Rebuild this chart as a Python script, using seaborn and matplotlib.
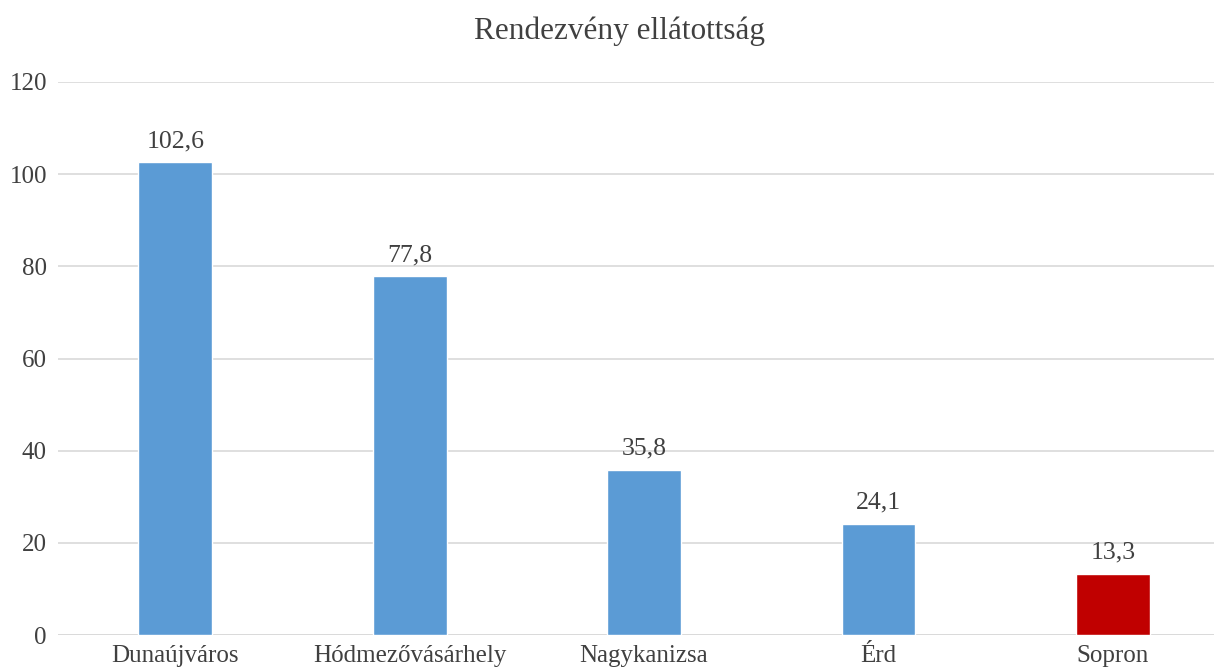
import matplotlib
matplotlib.use("Agg")
import matplotlib.pyplot as plt
import seaborn as sns
import pandas as pd

# adatok
cities = ["Dunaújváros", "Hódmezővásárhely", "Nagykanizsa", "Érd", "Sopron"]
values = [102.6, 77.8, 35.8, 24.1, 13.3]
bar_colors = ["#5B9BD5", "#5B9BD5", "#5B9BD5", "#5B9BD5", "#C00000"]
yticks = [0, 20, 40, 60, 80, 100, 120]

sns.set_theme(style="white")
plt.rcParams["font.family"] = ["Liberation Serif", "DejaVu Serif"]
text_color = "#404040"

df = pd.DataFrame({"city": cities, "value": values})

fig = plt.figure(figsize=(12.14, 6.69), dpi=100)
W, H = 1214, 669
left, right, top, bottom = 58, 1214, 82, 635
ax = fig.add_axes([left / W, 1 - bottom / H, (right - left) / W, (bottom - top) / H])

sns.barplot(data=df, x="city", y="value", hue="city", palette=bar_colors,
            legend=False, width=0.315, ax=ax, saturation=1)

ax.set_ylim(0, 120)
# a jobb szél levágva, mint az eredetin
ax.set_xlim(-0.5, 4.5 - (1230 - 1214) / 234)
ax.set_yticks(yticks)
ax.grid(axis="y", color="#D9D9D9", linewidth=1.2)
ax.set_axisbelow(True)
for s in ["top", "right", "left", "bottom"]:
    ax.spines[s].set_visible(False)
ax.axhline(0, color="#D9D9D9", linewidth=1.2, zorder=0.5)

ax.set_xlabel("")
ax.set_ylabel("")
ax.tick_params(axis="y", length=0, pad=8, labelsize=18, labelcolor=text_color)
ax.tick_params(axis="x", length=0, pad=7, labelsize=18, labelcolor=text_color)

for i, v in enumerate(values):
    ax.text(i, v + 2.2, f"{v:.1f}".replace(".", ","), ha="center", va="bottom",
            fontsize=18.5, color=text_color)

fig.text(620 / W, 1 - 31 / H, "Rendezvény ellátottság",
         ha="center", va="center", fontsize=22.5, color=text_color)

fig.savefig("out.png", dpi=100)
